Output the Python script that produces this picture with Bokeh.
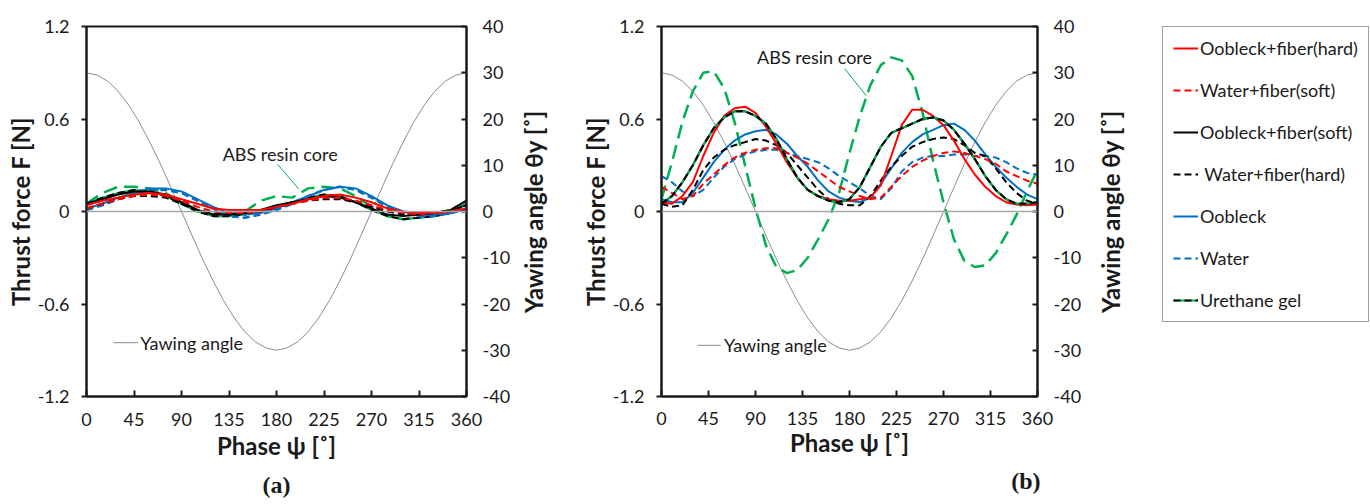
import math
from bokeh.plotting import figure
from bokeh.layouts import row
from bokeh.models import (Range1d, LinearAxis, FixedTicker, CustomJSTickFormatter,
                          Span, Label, Legend, LegendItem, Title)
from bokeh.embed import file_html
from bokeh.resources import INLINE

FONT = "Lato"
TXT = "#1a1a1a"
H = 504

# ---------------- data ----------------
phase_ticks = [0, 45, 90, 135, 180, 225, 270, 315, 360]
force_ticks = [-1.2, -0.6, 0, 0.6, 1.2]
yaw_ticks = [-40, -30, -20, -10, 0, 10, 20, 30, 40]

phase_yaw = list(range(0, 361, 10))
yaw_angle = [30.0, 29.5, 28.2, 26.0, 23.0, 19.3, 15.0, 10.3, 5.2, 0.0,
             -5.2, -10.3, -15.0, -19.3, -23.0, -26.0, -28.2, -29.5, -30.0,
             -29.5, -28.2, -26.0, -23.0, -19.3, -15.0, -10.3, -5.2, 0.0,
             5.2, 10.3, 15.0, 19.3, 23.0, 26.0, 28.2, 29.5, 30.0]

# panel (a): 0..360 step 15
phase_a = list(range(0, 361, 15))
a_oobleck_fiber_hard = [0.04, 0.07, 0.09, 0.11, 0.12, 0.11, 0.08, 0.05, 0.02, 0.01, 0.01, 0.01, 0.03,
                        0.05, 0.08, 0.10, 0.11, 0.09, 0.06, 0.02, 0.00, -0.01, -0.01, 0.00, 0.02]
a_water_fiber_soft = [0.02, 0.05, 0.08, 0.10, 0.11, 0.10, 0.07, 0.03, 0.00, -0.01, -0.01, 0.00, 0.03,
                      0.05, 0.07, 0.09, 0.09, 0.07, 0.04, 0.01, -0.01, -0.02, -0.01, 0.00, 0.02]
a_oobleck_fiber_soft = [0.05, 0.08, 0.11, 0.13, 0.13, 0.11, 0.06, 0.01, -0.02, -0.02, -0.01, 0.01, 0.04,
                        0.06, 0.08, 0.10, 0.09, 0.06, 0.02, -0.02, -0.03, -0.02, -0.01, 0.01, 0.07]
a_water_fiber_hard = [0.02, 0.05, 0.08, 0.10, 0.10, 0.09, 0.05, 0.01, -0.01, -0.02, -0.01, 0.00, 0.03,
                      0.05, 0.07, 0.08, 0.08, 0.06, 0.03, 0.00, -0.02, -0.02, -0.01, 0.01, 0.04]
a_oobleck = [0.02, 0.05, 0.09, 0.12, 0.15, 0.15, 0.13, 0.08, 0.03, -0.01, -0.02, -0.01, 0.02,
             0.06, 0.10, 0.14, 0.16, 0.15, 0.10, 0.04, 0.00, -0.03, -0.02, -0.01, 0.02]
a_water = [0.01, 0.04, 0.08, 0.11, 0.14, 0.14, 0.12, 0.07, 0.02, -0.03, -0.04, -0.02, 0.01,
           0.05, 0.10, 0.14, 0.16, 0.14, 0.09, 0.03, -0.01, -0.03, -0.03, -0.01, 0.01]
a_urethane = [0.05, 0.09, 0.12, 0.14, 0.13, 0.10, 0.05, 0.00, -0.03, -0.03, -0.02, 0.00, 0.03,
              0.06, 0.09, 0.11, 0.10, 0.06, 0.01, -0.03, -0.05, -0.04, -0.03, -0.01, 0.05]
a_abs_core = [0.05, 0.12, 0.16, 0.16, 0.15, 0.12, 0.06, 0.01, -0.02, -0.02, 0.00, 0.07, 0.10,
              0.09, 0.15, 0.16, 0.15, 0.10, 0.03, -0.03, -0.05, -0.04, -0.02, 0.00, 0.05]

# panel (b): 0..360 step 10
phase_b = list(range(0, 361, 10))
b_oobleck_fiber_hard = [0.06, 0.05, 0.10, 0.19, 0.36, 0.51, 0.62, 0.67, 0.68, 0.64, 0.55, 0.44, 0.32,
                        0.22, 0.14, 0.10, 0.08, 0.07, 0.07, 0.08, 0.09, 0.17, 0.36, 0.56, 0.66, 0.66,
                        0.62, 0.56, 0.46, 0.34, 0.24, 0.16, 0.10, 0.06, 0.045, 0.04, 0.045]
b_water_fiber_soft = [0.16, 0.12, 0.08, 0.10, 0.18, 0.24, 0.30, 0.35, 0.38, 0.40, 0.41, 0.41, 0.38,
                      0.35, 0.31, 0.26, 0.21, 0.16, 0.13, 0.10, 0.08, 0.09, 0.16, 0.23, 0.29, 0.33,
                      0.36, 0.38, 0.39, 0.38, 0.36, 0.34, 0.31, 0.26, 0.23, 0.20, 0.18]
b_oobleck_fiber_soft = [0.05, 0.10, 0.19, 0.30, 0.43, 0.54, 0.61, 0.65, 0.65, 0.62, 0.57, 0.47, 0.34,
                        0.22, 0.14, 0.10, 0.07, 0.06, 0.08, 0.16, 0.29, 0.42, 0.51, 0.54, 0.57, 0.60,
                        0.61, 0.59, 0.53, 0.44, 0.34, 0.23, 0.14, 0.08, 0.05, 0.05, 0.06]
b_water_fiber_hard = [0.05, 0.03, 0.04, 0.14, 0.27, 0.35, 0.40, 0.43, 0.45, 0.47, 0.46, 0.43, 0.38,
                      0.30, 0.22, 0.14, 0.08, 0.05, 0.04, 0.04, 0.10, 0.20, 0.29, 0.36, 0.42, 0.45,
                      0.47, 0.48, 0.47, 0.43, 0.38, 0.36, 0.28, 0.19, 0.12, 0.07, 0.05]
b_oobleck = [0.08, 0.06, 0.06, 0.12, 0.22, 0.32, 0.40, 0.46, 0.50, 0.52, 0.53, 0.50, 0.44,
             0.36, 0.29, 0.20, 0.13, 0.09, 0.07, 0.06, 0.09, 0.18, 0.28, 0.38, 0.45, 0.50,
             0.53, 0.56, 0.57, 0.53, 0.46, 0.37, 0.29, 0.22, 0.16, 0.11, 0.08]
b_water = [0.23, 0.19, 0.13, 0.10, 0.14, 0.22, 0.29, 0.34, 0.37, 0.39, 0.40, 0.40, 0.38,
           0.36, 0.34, 0.32, 0.28, 0.23, 0.19, 0.15, 0.10, 0.08, 0.15, 0.26, 0.32, 0.35,
           0.36, 0.36, 0.37, 0.37, 0.36, 0.36, 0.35, 0.32, 0.28, 0.25, 0.24]
b_urethane = [0.05, 0.10, 0.19, 0.30, 0.43, 0.54, 0.61, 0.65, 0.65, 0.62, 0.57, 0.47, 0.34,
              0.22, 0.14, 0.10, 0.07, 0.06, 0.08, 0.16, 0.29, 0.42, 0.51, 0.54, 0.57, 0.60,
              0.61, 0.59, 0.53, 0.44, 0.34, 0.23, 0.14, 0.08, 0.05, 0.05, 0.06]
b_abs_core = [0.08, 0.32, 0.58, 0.78, 0.90, 0.91, 0.80, 0.58, 0.30, 0.02, -0.22, -0.36, -0.40,
              -0.38, -0.30, -0.18, -0.05, 0.12, 0.38, 0.62, 0.82, 0.95, 1.00, 0.98, 0.88, 0.64,
              0.33, 0.06, -0.18, -0.32, -0.36, -0.35, -0.27, -0.15, -0.02, 0.13, 0.27]

legend_labels = ["Oobleck+fiber(hard)", "Water+fiber(soft)", "Oobleck+fiber(soft)",
                 " Water+fiber(hard)", "Oobleck", "Water", "Urethane gel"]

YAW_TITLE = "Yawing angle θy [˚]"

# ---------------- styles ----------------
RED, BLACK, BLUE, GREEN, GRAY = "#ff0000", "#000000", "#0070c0", "#00b050", "#8c8c8c"
DASH = "7 4"


def styled_axis_text(ax, size="18px"):
    ax.major_label_text_font = FONT
    ax.major_label_text_font_size = size
    ax.major_label_text_color = TXT
    ax.axis_label_text_font = FONT
    ax.axis_label_text_font_size = "24px"
    ax.axis_label_text_font_style = "bold"
    ax.axis_label_text_color = TXT
    ax.axis_line_color = TXT
    ax.axis_line_width = 2
    ax.major_tick_line_color = TXT
    ax.major_tick_line_width = 2
    ax.minor_tick_line_color = None


def title_axis(text, standoff):
    """A tick-less left axis used only to carry a bottom-to-top rotated title."""
    ax = LinearAxis(ticker=FixedTicker(ticks=[]), axis_label=text)
    styled_axis_text(ax)
    ax.axis_line_color = None
    ax.major_tick_line_color = None
    ax.major_label_standoff = 0
    ax.major_tick_in = 0
    ax.major_tick_out = 0
    ax.axis_label_standoff = standoff
    return ax


def make_panel(width, border_left, border_top, border_bottom, lab_standoff, title_standoff,
               tag, tag_standoff, tag_align, tag_offset, phase, series,
               abs_label, abs_leader, yaw_label, yaw_leader):
    p = figure(width=width, height=H, output_backend="svg", toolbar_location=None,
               x_range=Range1d(0, 360), y_range=Range1d(-1.2, 1.2),
               min_border_left=border_left, min_border_right=width - border_left - 380,
               min_border_top=border_top, min_border_bottom=border_bottom)
    p.extra_y_ranges = {"yaw": Range1d(-40, 40)}
    p.grid.visible = False
    p.outline_line_color = TXT
    p.outline_line_width = 2

    xa = p.xaxis[0]
    xa.ticker = FixedTicker(ticks=phase_ticks)
    styled_axis_text(xa)
    xa.major_tick_in = 6
    xa.major_tick_out = 0
    xa.major_label_standoff = lab_standoff
    xa.axis_label = "Phase ψ [˚]"
    xa.axis_label_standoff = title_standoff

    ya = p.yaxis[0]
    ya.ticker = FixedTicker(ticks=force_ticks)
    ya.formatter = CustomJSTickFormatter(code="return (Math.round(tick*10)/10).toString();")
    styled_axis_text(ya)
    ya.major_tick_in = 0
    ya.major_tick_out = 5
    ya.major_label_standoff = 12
    ya.axis_label = "Thrust force F [N]"
    ya.axis_label_standoff = 0

    ra = LinearAxis(y_range_name="yaw", ticker=FixedTicker(ticks=yaw_ticks))
    ra.formatter = CustomJSTickFormatter(code="return tick.toString();")
    styled_axis_text(ra)
    ra.major_tick_in = 5
    ra.major_tick_out = 0
    ra.major_label_standoff = 16
    p.add_layout(ra, "right")

    p.add_layout(Span(location=0, dimension="width", line_color="#a6a6a6", line_width=1.5))

    p.line(phase_yaw, yaw_angle, y_range_name="yaw", line_color=GRAY, line_width=1)

    for vals, color, dash, w in series:
        p.line(phase, vals, line_color=color, line_dash=dash, line_width=w)

    # annotations
    p.add_layout(Label(x=abs_label[0], y=abs_label[1], text="ABS resin core", text_font=FONT,
                       text_font_size="18px", text_color=TXT, text_baseline="middle"))
    p.line(abs_leader[0], abs_leader[1], line_color=GREEN, line_width=1)
    p.add_layout(Label(x=yaw_label[0], y=yaw_label[1], text="Yawing angle", text_font=FONT,
                       text_font_size="18px", text_color=TXT, text_baseline="middle"))
    p.line(yaw_leader[0], yaw_leader[1], line_color=GRAY, line_width=1)

    t = Title(text=tag, align=tag_align, offset=tag_offset, text_font="Liberation Serif",
              text_font_size="24px", text_font_style="bold", text_color=TXT,
              standoff=tag_standoff)
    p.add_layout(t, "below")
    return p


series_a = [
    (a_abs_core, GREEN, "14 7", 2.5),
    (a_urethane, GREEN, "solid", 2),
    (a_urethane, BLACK, DASH, 2),
    (a_water, BLUE, DASH, 2.5),
    (a_oobleck, BLUE, "solid", 2),
    (a_water_fiber_hard, BLACK, DASH, 2),
    (a_oobleck_fiber_soft, BLACK, "solid", 2),
    (a_water_fiber_soft, RED, DASH, 2),
    (a_oobleck_fiber_hard, RED, "solid", 2),
]
series_b = [
    (b_abs_core, GREEN, "14 7", 2.5),
    (b_water, BLUE, DASH, 2),
    (b_oobleck, BLUE, "solid", 2),
    (b_water_fiber_hard, BLACK, DASH, 2),
    (b_water_fiber_soft, RED, DASH, 2),
    (b_oobleck_fiber_hard, RED, "solid", 2),
    (b_oobleck_fiber_soft, BLACK, "solid", 2),
    (b_urethane, GREEN, "solid", 2),
    (b_urethane, BLACK, DASH, 2),
]

pa = make_panel(515, 86, 22, 106, 16, 2, "(a)", 14, "center", 0, phase_a, series_a,
                (129, 0.37), ([181, 201], [0.306, 0.147]),
                (51, -0.851), ([25.6, 49], [-0.851, -0.851]))
pb = make_panel(577, 142, 26, 102, 15, 0, "(b)", 13, "right", -3, phase_b, series_b,
                (91.5, 1.005), ([175.4, 196], [0.927, 0.751]),
                (59.8, -0.868), ([34.5, 56.7], [-0.868, -0.868]))
# right-axis title of panel (a), carried just left of panel (b)'s own axis
pb.add_layout(title_axis(YAW_TITLE, 30), "left")

# legend panel (also carries the right-axis title of panel (b))
pl = figure(width=278, height=H, output_backend="svg", toolbar_location=None,
            x_range=Range1d(0, 1), y_range=Range1d(0, 1),
            min_border_left=68, min_border_right=0, min_border_top=26, min_border_bottom=101,
            x_axis_location=None, y_axis_location=None)
pl.grid.visible = False
pl.outline_line_color = None
pl.add_layout(title_axis(YAW_TITLE, 38), "left")
leg_styles = [(RED, "solid"), (RED, DASH), (BLACK, "solid"), (BLACK, DASH),
              (BLUE, "solid"), (BLUE, DASH)]
off_x, off_y = [10, 11], [10, 10]  # outside the (hidden) legend frame
items = []
for lab, (c, d) in zip(legend_labels[:6], leg_styles):
    r = pl.line(x=off_x, y=off_y, line_color=c, line_dash=d, line_width=2)
    items.append(LegendItem(label=lab, renderers=[r]))
r1 = pl.line(x=off_x, y=off_y, line_color=GREEN, line_width=2)
r2 = pl.line(x=off_x, y=off_y, line_color=BLACK, line_dash=DASH, line_width=2)
items.append(LegendItem(label=legend_labels[6], renderers=[r1, r2]))
legend = Legend(items=items, location="top_left", margin=0, glyph_width=25, glyph_height=20,
                label_height=20, spacing=20, padding=10, label_standoff=2,
                label_text_font=FONT, label_text_font_size="18px", label_text_color=TXT,
                border_line_color="#404040", border_line_width=1.5)
pl.add_layout(legend)

layout = row(pa, pb, pl)
open("out.html", "w").write(file_html(layout, INLINE))
